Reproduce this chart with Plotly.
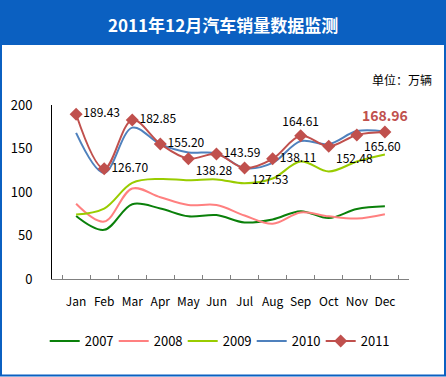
import plotly.graph_objects as go

months = ["Jan", "Feb", "Mar", "Apr", "May", "Jun", "Jul", "Aug", "Sep", "Oct", "Nov", "Dec"]
s2007 = [72.5, 56.5, 86.0, 81.0, 72.0, 73.5, 65.0, 68.5, 78.0, 70.0, 80.5, 83.5]
s2008 = [86.5, 66.0, 104.0, 94.0, 85.0, 85.0, 73.0, 63.5, 76.5, 72.0, 69.5, 74.5]
s2009 = [74.0, 81.0, 110.5, 115.0, 113.5, 114.5, 110.0, 115.5, 135.0, 123.5, 135.0, 143.0]
s2010 = [168.0, 122.0, 174.0, 155.0, 145.5, 144.5, 127.5, 133.5, 158.5, 155.0, 170.0, 169.5]
s2011 = [189.43, 126.70, 182.85, 155.20, 138.28, 143.59, 127.53, 138.11, 164.61, 152.48, 165.60, 168.96]
label_pos_2011 = ["middle right", "middle right", "middle right", "middle right", "bottom right",
                  "middle right", "bottom right", "middle right", "top center", "bottom right",
                  "bottom right", "top center"]

colors = {"2007": "#0A800A", "2008": "#FF8080", "2009": "#99CC00", "2010": "#4F81BD", "2011": "#C0504D"}
BLUE = "#0B60C1"
FONT = "Noto Sans CJK SC"

fig = go.Figure()
for name, vals in [("2007", s2007), ("2008", s2008), ("2009", s2009), ("2010", s2010)]:
    fig.add_trace(go.Scatter(x=months, y=vals, name=name, mode="lines",
                             line=dict(color=colors[name], width=2, shape="spline", smoothing=1)))

texts = [f"{v:.2f}" for v in s2011]
texts[-1] = f"<b>{s2011[-1]:.2f}</b>"
tcolors = ["black"] * 11 + [colors["2011"]]
tsizes = [12] * 11 + [14]
fig.add_trace(go.Scatter(x=months, y=s2011, name="2011", mode="lines+markers+text",
                         line=dict(color=colors["2011"], width=2, shape="spline", smoothing=1),
                         marker=dict(symbol="diamond", size=10, color=colors["2011"]),
                         text=texts, textposition=label_pos_2011,
                         textfont=dict(family=FONT, color=tcolors, size=tsizes)))

fig.update_layout(
    width=446, height=377,
    margin=dict(l=52, r=37, t=105, b=98, autoexpand=False),
    paper_bgcolor="white", plot_bgcolor="white",
    font=dict(family=FONT, color="black", size=12),
    showlegend=True,
    legend=dict(orientation="h", xref="container", yref="container", x=0.487, xanchor="center",
                y=(377 - 341) / 377, yanchor="middle", itemwidth=30,
                entrywidth=24, entrywidthmode="pixels",
                font=dict(family=FONT, size=13, color="black")),
    xaxis=dict(showgrid=False, showline=True, linecolor="#808080", linewidth=1,
               ticks="inside", ticklen=4, tickcolor="#808080", tickson="boundaries",
               ticklabelstandoff=12, tickangle=0, automargin=False,
               tickfont=dict(size=12), fixedrange=True),
    yaxis=dict(range=[0, 200], dtick=50, showgrid=False, zeroline=False, showline=True,
               linecolor="black", linewidth=1, ticks="", ticklabelstandoff=16, automargin=False,
               tickfont=dict(size=13), fixedrange=True),
    shapes=[
        dict(type="rect", xref="paper", yref="paper", x0=-52/357, x1=1+37/357,
             y0=1 + (105 - 45) / 174, y1=1 + 105 / 174, fillcolor=BLUE, line_width=0, layer="below"),
    ],
    annotations=[
        dict(text="<b>2011年12月汽车销量数据监测</b>", xref="paper", yref="paper",
             x=(223 - 52) / 357, y=1 + (105 - 24) / 174, xanchor="center", yanchor="middle",
             showarrow=False, font=dict(family=FONT, size=17, color="white")),
        dict(text="单位：万辆", xref="paper", yref="paper",
             x=(434 - 52) / 357, y=1 + (105 - 80) / 174, xanchor="right", yanchor="middle",
             showarrow=False, font=dict(family=FONT, size=12, color="black")),
    ],
)

# outer blue border (decorative frame)
fig.add_shape(type="rect", xref="paper", yref="paper",
              x0=-51/357, x1=1 + 36/357, y0=-(98 - 1.5) / 174, y1=1 + 104 / 174,
              line=dict(color=BLUE, width=2), fillcolor="rgba(0,0,0,0)", layer="below")

fig.write_html("out.html", config={"displayModeBar": False},
               post_script="document.body.style.margin='0';document.body.style.overflow='hidden';")
